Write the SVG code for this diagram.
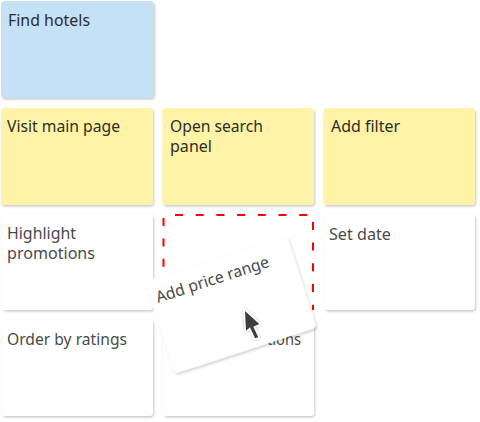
<svg xmlns="http://www.w3.org/2000/svg" width="480" height="422" viewBox="0 0 480 422">
<style>
text{font-family:"Noto Sans","Open Sans",sans-serif;font-size:16px;fill:#4a4a4a}
.d{fill:#2d2d26}
.c{filter:url(#s)}
.w{fill:#fff}.y{fill:#fef3a6}.b{fill:#c5e1f6}
.r{fill:none;stroke:#f00;stroke-width:2}
</style>
<defs>
<filter id="s" x="-10%" y="-10%" width="120%" height="120%"><feDropShadow dx="1" dy="1.5" stdDeviation="1" flood-color="#000" flood-opacity=".22"/></filter>
<filter id="g" x="-10%" y="-10%" width="120%" height="120%"><feDropShadow dx="1.500" dy="2" stdDeviation=".8" flood-color="#000" flood-opacity=".16"/></filter>
<filter id="h" x="-40%" y="-40%" width="180%" height="180%"><feDropShadow dx="0" dy="0" stdDeviation="1.500" flood-color="#000" flood-opacity=".25"/></filter>
</defs>
<g id="n1"><rect class="c b" x="1" y="1" width="153" height="97" rx="4"/><text class="d" x="8" y="26" textLength="82" lengthAdjust="spacingAndGlyphs">Find hotels</text></g>
<g id="n2"><rect class="c y" x="1" y="108" width="152" height="97" rx="4"/><text class="d" x="7" y="132" textLength="113" lengthAdjust="spacingAndGlyphs">Visit main page</text></g>
<g id="n3"><rect class="c y" x="162.500" y="108" width="151.500" height="97" rx="4"/><text class="d" x="170" y="132" textLength="93" lengthAdjust="spacingAndGlyphs">Open search</text><text class="d" x="170" y="152" textLength="42" lengthAdjust="spacingAndGlyphs">panel</text></g>
<g id="n4"><rect class="c y" x="323.500" y="108" width="151.500" height="97" rx="4"/><text class="d" x="331" y="132" textLength="69" lengthAdjust="spacingAndGlyphs">Add filter</text></g>
<g id="n5"><rect class="c w" x="2" y="214" width="151" height="96" rx="4"/><text x="7" y="239" textLength="69" lengthAdjust="spacingAndGlyphs">Highlight</text><text x="7" y="259" textLength="88" lengthAdjust="spacingAndGlyphs">promotions</text></g>
<g id="n6"><rect class="c w" x="324" y="214" width="151" height="96" rx="4"/><text x="329" y="240" textLength="62" lengthAdjust="spacingAndGlyphs">Set date</text></g>
<g id="n7"><rect class="c w" x="2" y="320" width="151" height="96" rx="4"/><text x="7" y="345" textLength="120" lengthAdjust="spacingAndGlyphs">Order by ratings</text></g>
<g id="n8"><rect class="c w" x="163" y="320" width="151" height="96" rx="4"/><text x="267" y="345" textLength="34" lengthAdjust="spacingAndGlyphs">tions</text></g>
<g id="slot"><path class="r" d="M175 215H313V310" stroke-dasharray="8 12.700"/><path class="r" d="M163.500 218V280" stroke-dasharray="8 12.400"/></g>
<g id="n9"><g filter="url(#g)"><rect class="w" x="0" y="0" width="149" height="96" rx="4" stroke="#fbfaf2" stroke-width=".6" transform="translate(145 282) rotate(-18)"/></g><text x="158" y="303" transform="rotate(-18 158 303)" textLength="118" lengthAdjust="spacingAndGlyphs">Add price range</text></g>
<g id="cursor"><polygon points="245,311 259.300,324 253.300,326.700 258.300,337.300 255,338.300 250,327.300 246,330.700" fill="#3c3c3c" stroke="#fff" stroke-width="3" stroke-linejoin="round" paint-order="stroke" filter="url(#h)"/></g>
</svg>
